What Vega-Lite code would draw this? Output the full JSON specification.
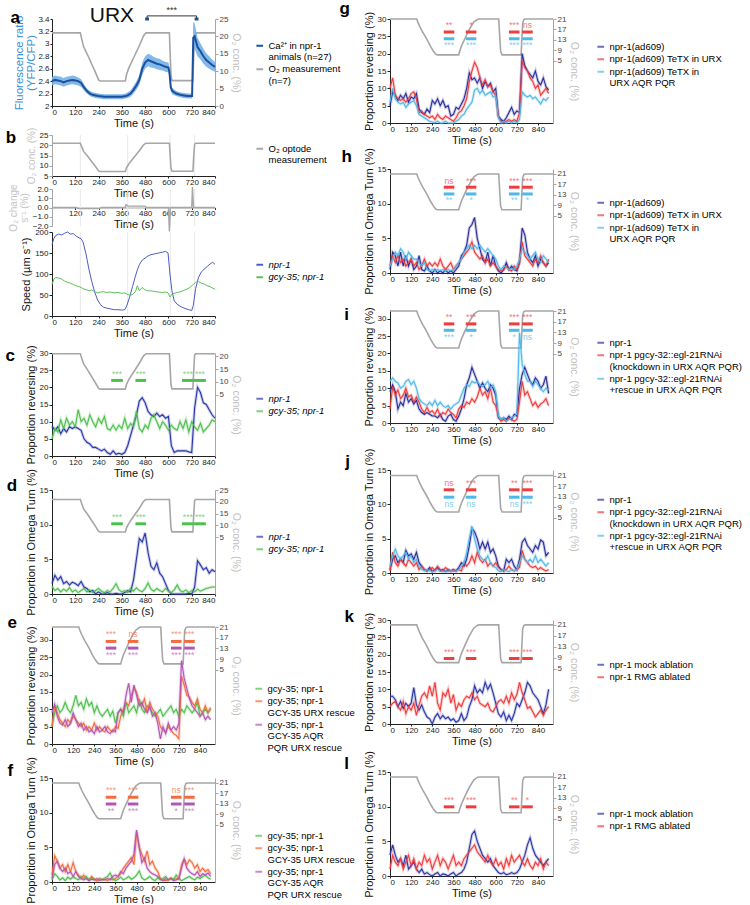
{
"$schema":"https://vega.github.io/schema/vega-lite/v6.json",
"padding":{"left":5,"top":0,"right":0,"bottom":0},
"autosize":{"type":"pad"},
"config":{
 "font":"Liberation Sans",
 "view":{"stroke":null},
 "axis":{"labelFontSize":8,"titleFontSize":11,"titleFontWeight":"normal","grid":false,"tickSize":3,"labelPadding":1,"titlePadding":3,"domainColor":"#222","tickColor":"#222","labelColor":"#222","titleColor":"#111"},
 "axisX":{"tickSize":2,"labelPadding":0,"titlePadding":1},
 "axisRight":{"titleFontSize":10.5},
 "legend":{"orient":"none","labelFontSize":9.5,"symbolType":"stroke","symbolStrokeWidth":2,"symbolSize":45,"rowPadding":1.5,"padding":0,"labelOffset":4,"labelLimit":300}
},
"datasets":{
"o2a":[{"t":0,"o2":21},{"t":146,"o2":21},{"t":152,"o2":19.5},{"t":163,"o2":17},{"t":185,"o2":14.5},{"t":205,"o2":12},{"t":225,"o2":9.5},{"t":240,"o2":7.5},{"t":248,"o2":7.2},{"t":378,"o2":7.2},{"t":384,"o2":9},{"t":395,"o2":10.8},{"t":420,"o2":13.8},{"t":450,"o2":17.3},{"t":472,"o2":20.2},{"t":484,"o2":21},{"t":605,"o2":21},{"t":609,"o2":15},{"t":613,"o2":9},{"t":618,"o2":7.3},{"t":726,"o2":7.3},{"t":730,"o2":14},{"t":735,"o2":20.5},{"t":740,"o2":21},{"t":840,"o2":21}],
"o2e":[{"t":0,"o2":21},{"t":152,"o2":21},{"t":158,"o2":19.8},{"t":170,"o2":18},{"t":185,"o2":16},{"t":200,"o2":14.3},{"t":215,"o2":12.5},{"t":230,"o2":10.5},{"t":245,"o2":8.8},{"t":258,"o2":7.6},{"t":268,"o2":7.2},{"t":390,"o2":7.2},{"t":395,"o2":8.5},{"t":405,"o2":10.5},{"t":425,"o2":13.5},{"t":450,"o2":17},{"t":475,"o2":19.8},{"t":495,"o2":20.8},{"t":505,"o2":21},{"t":617,"o2":21},{"t":622,"o2":15},{"t":628,"o2":8.5},{"t":636,"o2":7.2},{"t":744,"o2":7.2},{"t":748,"o2":13},{"t":753,"o2":19.5},{"t":760,"o2":20.8},{"t":770,"o2":21},{"t":925,"o2":21}],
"vt":[{"t":146},{"t":390},{"t":609},{"t":735}],
"a":[{"t":0,"v":2.40,"lo":2.33,"hi":2.47},{"t":15,"v":2.42,"lo":2.35,"hi":2.49},{"t":30,"v":2.41,"lo":2.34,"hi":2.48},{"t":45,"v":2.40,"lo":2.33,"hi":2.47},{"t":60,"v":2.38,"lo":2.31,"hi":2.45},{"t":75,"v":2.40,"lo":2.33,"hi":2.47},{"t":90,"v":2.41,"lo":2.34,"hi":2.48},{"t":105,"v":2.42,"lo":2.35,"hi":2.49},{"t":120,"v":2.41,"lo":2.34,"hi":2.48},{"t":135,"v":2.40,"lo":2.33,"hi":2.46},{"t":150,"v":2.37,"lo":2.31,"hi":2.43},{"t":165,"v":2.30,"lo":2.25,"hi":2.35},{"t":180,"v":2.24,"lo":2.20,"hi":2.28},{"t":195,"v":2.20,"lo":2.16,"hi":2.24},{"t":210,"v":2.18,"lo":2.14,"hi":2.22},{"t":225,"v":2.17,"lo":2.13,"hi":2.21},{"t":240,"v":2.16,"lo":2.12,"hi":2.20},{"t":270,"v":2.15,"lo":2.11,"hi":2.19},{"t":300,"v":2.15,"lo":2.11,"hi":2.19},{"t":330,"v":2.15,"lo":2.11,"hi":2.19},{"t":360,"v":2.15,"lo":2.11,"hi":2.19},{"t":380,"v":2.16,"lo":2.12,"hi":2.20},{"t":390,"v":2.17,"lo":2.13,"hi":2.22},{"t":405,"v":2.20,"lo":2.15,"hi":2.25},{"t":420,"v":2.26,"lo":2.20,"hi":2.32},{"t":435,"v":2.33,"lo":2.26,"hi":2.40},{"t":450,"v":2.42,"lo":2.34,"hi":2.50},{"t":465,"v":2.60,"lo":2.50,"hi":2.70},{"t":480,"v":2.70,"lo":2.60,"hi":2.80},{"t":495,"v":2.74,"lo":2.64,"hi":2.84},{"t":510,"v":2.72,"lo":2.62,"hi":2.82},{"t":525,"v":2.70,"lo":2.61,"hi":2.79},{"t":540,"v":2.68,"lo":2.59,"hi":2.77},{"t":555,"v":2.67,"lo":2.58,"hi":2.76},{"t":570,"v":2.65,"lo":2.57,"hi":2.73},{"t":585,"v":2.63,"lo":2.55,"hi":2.71},{"t":600,"v":2.62,"lo":2.54,"hi":2.70},{"t":605,"v":2.55,"lo":2.47,"hi":2.63},{"t":612,"v":2.30,"lo":2.24,"hi":2.36},{"t":620,"v":2.24,"lo":2.19,"hi":2.29},{"t":640,"v":2.20,"lo":2.16,"hi":2.24},{"t":660,"v":2.18,"lo":2.14,"hi":2.22},{"t":680,"v":2.17,"lo":2.13,"hi":2.21},{"t":700,"v":2.16,"lo":2.12,"hi":2.20},{"t":722,"v":2.16,"lo":2.12,"hi":2.20},{"t":728,"v":3.10,"lo":2.90,"hi":3.35},{"t":735,"v":3.12,"lo":2.92,"hi":3.33},{"t":750,"v":2.95,"lo":2.80,"hi":3.10},{"t":765,"v":2.88,"lo":2.75,"hi":3.01},{"t":780,"v":2.80,"lo":2.68,"hi":2.92},{"t":795,"v":2.74,"lo":2.63,"hi":2.85},{"t":810,"v":2.70,"lo":2.60,"hi":2.80},{"t":825,"v":2.66,"lo":2.57,"hi":2.75},{"t":840,"v":2.63,"lo":2.55,"hi":2.71}],
"abr":[{"t0":490,"t1":745,"y0":3.45,"y1":3.45},{"t0":490,"t1":490,"y0":3.4,"y1":3.45},{"t0":745,"t1":745,"y0":3.4,"y1":3.45}],
"acap":[{"t0":480,"t1":500,"y":3.4},{"t0":735,"t1":755,"y":3.4}],
"aast":[{"t":617,"y":3.54,"lab":"***"}],
"aurx":[{"t":309,"y":3.45,"lab":"URX"}],
"b2":[{"t":0,"d":0},{"t":125,"d":0},{"t":135,"d":-0.12},{"t":245,"d":-0.12},{"t":255,"d":0},{"t":376,"d":0},{"t":382,"d":0.3},{"t":390,"d":0.15},{"t":480,"d":0.15},{"t":486,"d":0},{"t":600,"d":0},{"t":605,"d":-2.6},{"t":610,"d":0},{"t":720,"d":0},{"t":724,"d":2.2},{"t":729,"d":0},{"t":840,"d":0}],
"b3":[{"t":0,"A":170,"B":75},{"t":10,"A":185,"B":88},{"t":20,"A":192,"B":92},{"t":35,"A":195,"B":90},{"t":50,"A":193,"B":88},{"t":65,"A":197,"B":83},{"t":80,"A":200,"B":80},{"t":95,"A":195,"B":78},{"t":110,"A":196,"B":75},{"t":125,"A":190,"B":72},{"t":140,"A":186,"B":70},{"t":150,"A":184,"B":68},{"t":160,"A":176,"B":65},{"t":175,"A":148,"B":63},{"t":190,"A":112,"B":60},{"t":205,"A":82,"B":62},{"t":220,"A":57,"B":58},{"t":235,"A":38,"B":55},{"t":250,"A":27,"B":57},{"t":265,"A":21,"B":58},{"t":280,"A":19,"B":56},{"t":300,"A":17,"B":57},{"t":320,"A":15,"B":55},{"t":340,"A":15,"B":56},{"t":360,"A":14,"B":54},{"t":375,"A":15,"B":55},{"t":385,"A":24,"B":52},{"t":400,"A":45,"B":50},{"t":415,"A":70,"B":51},{"t":430,"A":95,"B":58},{"t":440,"A":110,"B":72},{"t":450,"A":122,"B":60},{"t":465,"A":133,"B":68},{"t":480,"A":138,"B":62},{"t":495,"A":143,"B":60},{"t":510,"A":146,"B":60},{"t":530,"A":148,"B":58},{"t":550,"A":150,"B":57},{"t":570,"A":152,"B":56},{"t":585,"A":154,"B":57},{"t":598,"A":150,"B":55},{"t":608,"A":100,"B":45},{"t":618,"A":60,"B":52},{"t":630,"A":36,"B":54},{"t":645,"A":28,"B":56},{"t":665,"A":22,"B":58},{"t":685,"A":18,"B":62},{"t":705,"A":15,"B":66},{"t":720,"A":13,"B":72},{"t":728,"A":25,"B":75},{"t":740,"A":65,"B":80},{"t":755,"A":92,"B":82},{"t":770,"A":105,"B":78},{"t":785,"A":112,"B":76},{"t":800,"A":118,"B":72},{"t":815,"A":124,"B":70},{"t":828,"A":128,"B":66},{"t":840,"A":123,"B":64}],
"c":[{"t":0,"A":8.7,"B":5},{"t":15,"A":7.5,"B":8},{"t":30,"A":8.5,"B":7},{"t":45,"A":6.5,"B":10.5},{"t":60,"A":8,"B":8},{"t":75,"A":7,"B":11},{"t":90,"A":8.5,"B":9},{"t":105,"A":8,"B":10},{"t":120,"A":8.5,"B":8.5},{"t":135,"A":8,"B":13.5},{"t":150,"A":7.5,"B":10},{"t":165,"A":5,"B":11},{"t":180,"A":4,"B":9},{"t":195,"A":3.5,"B":12},{"t":210,"A":2.5,"B":10},{"t":225,"A":2.5,"B":8.5},{"t":240,"A":2,"B":11},{"t":255,"A":1.5,"B":9.5},{"t":270,"A":2,"B":11.5},{"t":285,"A":1,"B":8},{"t":300,"A":0.5,"B":7.5},{"t":315,"A":1.5,"B":9},{"t":330,"A":0.5,"B":7.5},{"t":345,"A":0.8,"B":9},{"t":360,"A":0.5,"B":8},{"t":375,"A":1,"B":11},{"t":390,"A":3,"B":8},{"t":405,"A":6,"B":9.5},{"t":420,"A":9,"B":8.5},{"t":435,"A":12,"B":13},{"t":450,"A":16,"B":8},{"t":465,"A":17,"B":7},{"t":480,"A":15.5,"B":9},{"t":495,"A":13,"B":8},{"t":510,"A":12,"B":11},{"t":525,"A":11.5,"B":12},{"t":540,"A":12.5,"B":10},{"t":555,"A":11.5,"B":8},{"t":570,"A":12,"B":10},{"t":585,"A":11,"B":9},{"t":600,"A":11.5,"B":7.5},{"t":615,"A":3,"B":9},{"t":630,"A":1,"B":8},{"t":645,"A":1.5,"B":7.5},{"t":660,"A":1.5,"B":10},{"t":675,"A":1.5,"B":8},{"t":690,"A":1.5,"B":10.5},{"t":705,"A":1.2,"B":7},{"t":720,"A":1,"B":10},{"t":735,"A":14,"B":8.5},{"t":750,"A":20,"B":7.5},{"t":765,"A":18.5,"B":9.5},{"t":780,"A":15.5,"B":7},{"t":795,"A":15,"B":8},{"t":810,"A":13.5,"B":9},{"t":825,"A":12,"B":10.5},{"t":840,"A":11,"B":10}],
"d":[{"t":0,"A":1.5,"B":1.1},{"t":15,"A":2.7,"B":0.5},{"t":30,"A":2,"B":0.8},{"t":45,"A":2.5,"B":0.3},{"t":60,"A":1.5,"B":0.7},{"t":75,"A":1.8,"B":0.4},{"t":90,"A":1.3,"B":0.9},{"t":105,"A":1.7,"B":0.3},{"t":120,"A":1.5,"B":0.6},{"t":135,"A":1.2,"B":0.2},{"t":150,"A":1.8,"B":0.5},{"t":165,"A":1,"B":0.8},{"t":180,"A":0.8,"B":0.3},{"t":195,"A":0.3,"B":0.6},{"t":210,"A":0.5,"B":0.2},{"t":225,"A":0,"B":0.5},{"t":240,"A":0.3,"B":0.8},{"t":255,"A":0,"B":0.4},{"t":270,"A":0,"B":0.2},{"t":285,"A":0.2,"B":0.5},{"t":300,"A":0,"B":0.3},{"t":315,"A":0,"B":0.8},{"t":330,"A":0.1,"B":1.5},{"t":345,"A":0,"B":0.6},{"t":360,"A":0,"B":0.3},{"t":375,"A":0.2,"B":0.5},{"t":390,"A":0.5,"B":0.2},{"t":405,"A":0.3,"B":0.8},{"t":420,"A":2,"B":0.4},{"t":435,"A":5,"B":0.9},{"t":450,"A":8,"B":0.5},{"t":465,"A":7.5,"B":0.3},{"t":480,"A":8.8,"B":0.8},{"t":495,"A":6,"B":1.6},{"t":510,"A":4,"B":0.7},{"t":525,"A":3.5,"B":0.4},{"t":540,"A":4.5,"B":0.8},{"t":555,"A":3,"B":0.5},{"t":570,"A":2.5,"B":0.3},{"t":585,"A":1.5,"B":0.8},{"t":600,"A":0.5,"B":0.4},{"t":615,"A":0,"B":0.2},{"t":630,"A":0,"B":0.6},{"t":645,"A":0,"B":1.3},{"t":660,"A":0,"B":0.5},{"t":675,"A":0,"B":0.3},{"t":690,"A":0,"B":0.6},{"t":705,"A":0.1,"B":0.2},{"t":720,"A":0,"B":0.5},{"t":735,"A":1,"B":0.3},{"t":750,"A":4.8,"B":0.7},{"t":765,"A":4.2,"B":0.4},{"t":780,"A":3.5,"B":0.6},{"t":795,"A":3.8,"B":0.8},{"t":810,"A":3,"B":0.9},{"t":825,"A":3.5,"B":1},{"t":840,"A":3.2,"B":1}],
"e":[{"t":0,"A":5,"B":5,"C":9},{"t":15,"A":9,"B":11,"C":11.5},{"t":30,"A":11,"B":9,"C":8},{"t":45,"A":9,"B":7,"C":6},{"t":60,"A":10,"B":6,"C":5.5},{"t":75,"A":12,"B":5,"C":7},{"t":90,"A":10,"B":7,"C":5},{"t":105,"A":9,"B":6,"C":6},{"t":120,"A":11,"B":8,"C":9},{"t":135,"A":14,"B":7,"C":7},{"t":150,"A":11,"B":6,"C":5},{"t":165,"A":12,"B":5,"C":6},{"t":180,"A":10,"B":6,"C":4},{"t":195,"A":13,"B":4,"C":5},{"t":210,"A":11,"B":5,"C":3.5},{"t":225,"A":12,"B":4,"C":4},{"t":240,"A":9,"B":6,"C":3},{"t":255,"A":11,"B":4,"C":5},{"t":270,"A":9,"B":5,"C":3.5},{"t":285,"A":8,"B":4,"C":4},{"t":300,"A":9,"B":3.5,"C":5},{"t":315,"A":10,"B":5,"C":3.5},{"t":330,"A":8,"B":4,"C":3},{"t":345,"A":9.5,"B":3.5,"C":4},{"t":360,"A":6,"B":5,"C":3.5},{"t":375,"A":9,"B":4.5,"C":9},{"t":390,"A":10,"B":8,"C":10},{"t":405,"A":8,"B":10,"C":9},{"t":420,"A":12,"B":12,"C":14},{"t":435,"A":9,"B":11,"C":17.5},{"t":450,"A":10,"B":14,"C":12},{"t":465,"A":11,"B":16,"C":17},{"t":480,"A":9,"B":15,"C":14},{"t":495,"A":13,"B":12,"C":11},{"t":510,"A":10,"B":11,"C":12},{"t":525,"A":9,"B":13,"C":10},{"t":540,"A":11,"B":9,"C":9},{"t":555,"A":10,"B":12,"C":11},{"t":570,"A":9,"B":10,"C":8},{"t":585,"A":8,"B":9,"C":9},{"t":600,"A":9,"B":8,"C":6},{"t":615,"A":10,"B":5,"C":1.5},{"t":630,"A":8,"B":4,"C":5},{"t":645,"A":9,"B":3.5,"C":3},{"t":660,"A":10,"B":5,"C":6},{"t":675,"A":11,"B":4,"C":4},{"t":690,"A":9,"B":3,"C":5},{"t":705,"A":10,"B":2.5,"C":4},{"t":720,"A":8,"B":1.5,"C":6},{"t":735,"A":10,"B":19.5,"C":24},{"t":750,"A":9,"B":17,"C":19},{"t":765,"A":11,"B":14,"C":16},{"t":780,"A":10,"B":13.5,"C":13},{"t":795,"A":9,"B":12,"C":11},{"t":810,"A":10,"B":11,"C":10},{"t":825,"A":12,"B":13,"C":9},{"t":840,"A":8,"B":10,"C":8},{"t":855,"A":9,"B":9,"C":9},{"t":870,"A":10,"B":11,"C":7},{"t":885,"A":9,"B":9,"C":8},{"t":900,"A":10,"B":10.5,"C":7}],
"f":[{"t":0,"A":0.3,"B":1,"C":0.5},{"t":15,"A":1.2,"B":3.8,"C":2.5},{"t":30,"A":0.8,"B":3,"C":3},{"t":45,"A":0.3,"B":2,"C":2},{"t":60,"A":0.6,"B":2.5,"C":1.5},{"t":75,"A":0.2,"B":1.5,"C":2},{"t":90,"A":0.7,"B":2.5,"C":1.2},{"t":105,"A":0.4,"B":1.5,"C":1.5},{"t":120,"A":0.8,"B":2.8,"C":0.8},{"t":135,"A":0.5,"B":1.5,"C":1.5},{"t":150,"A":0.3,"B":1,"C":0.8},{"t":165,"A":0.8,"B":0.5,"C":0.5},{"t":180,"A":0.5,"B":1,"C":0.3},{"t":195,"A":0.8,"B":0.5,"C":0.5},{"t":210,"A":0.3,"B":0.3,"C":0.2},{"t":225,"A":0.6,"B":0.8,"C":0.4},{"t":240,"A":0.4,"B":0.4,"C":0.3},{"t":255,"A":0.2,"B":0.2,"C":0.5},{"t":270,"A":0.5,"B":0.5,"C":0.2},{"t":285,"A":0.3,"B":0.3,"C":0.4},{"t":300,"A":0.6,"B":0.4,"C":0.3},{"t":315,"A":0.8,"B":0.2,"C":0.5},{"t":330,"A":1.3,"B":0.5,"C":0.3},{"t":345,"A":0.5,"B":0.3,"C":0.8},{"t":360,"A":0.2,"B":0.5,"C":1},{"t":375,"A":0.4,"B":0.8,"C":0.8},{"t":390,"A":0.7,"B":1.2,"C":1.5},{"t":405,"A":0.3,"B":2,"C":1.2},{"t":420,"A":0.5,"B":2.5,"C":2},{"t":435,"A":0.8,"B":3,"C":2.5},{"t":450,"A":0.4,"B":3.5,"C":3},{"t":465,"A":0.6,"B":2.5,"C":4},{"t":480,"A":1,"B":7.2,"C":7.5},{"t":495,"A":1.6,"B":5,"C":5},{"t":510,"A":0.6,"B":4,"C":2.8},{"t":525,"A":0.3,"B":3,"C":3.5},{"t":540,"A":0.5,"B":4.5,"C":2},{"t":555,"A":0.8,"B":2.5,"C":1.5},{"t":570,"A":0.4,"B":3,"C":1.2},{"t":585,"A":0.2,"B":2,"C":1},{"t":600,"A":0.6,"B":1.5,"C":0.8},{"t":615,"A":0.3,"B":0.5,"C":0.4},{"t":630,"A":0.5,"B":0.3,"C":0.2},{"t":645,"A":0.8,"B":0.2,"C":0.5},{"t":660,"A":0.3,"B":0.3,"C":0.3},{"t":675,"A":0.6,"B":0.5,"C":0.5},{"t":690,"A":0.4,"B":0.3,"C":0.2},{"t":705,"A":1,"B":0.5,"C":0.3},{"t":720,"A":0.5,"B":0.4,"C":0.5},{"t":735,"A":0.2,"B":2.5,"C":2},{"t":750,"A":0.4,"B":3.3,"C":3.3},{"t":765,"A":0.6,"B":2.5,"C":2},{"t":780,"A":0.8,"B":3.2,"C":1.5},{"t":795,"A":0.5,"B":2.8,"C":1.2},{"t":810,"A":0.3,"B":2,"C":1},{"t":825,"A":0.7,"B":2.5,"C":1.5},{"t":840,"A":0.5,"B":1.5,"C":0.8},{"t":855,"A":0.8,"B":2,"C":1.2},{"t":870,"A":1,"B":1.5,"C":1},{"t":885,"A":0.6,"B":1.8,"C":1.3},{"t":900,"A":0.4,"B":1.2,"C":0.8}],
"g":[{"t":0,"A":5,"B":10,"C":6},{"t":15,"A":9,"B":13,"C":10},{"t":30,"A":8,"B":8,"C":7},{"t":45,"A":6.5,"B":7,"C":6},{"t":60,"A":8,"B":6.5,"C":5.5},{"t":75,"A":7,"B":7,"C":6},{"t":90,"A":8.5,"B":6,"C":4.5},{"t":105,"A":6,"B":7,"C":5.5},{"t":120,"A":7.5,"B":8.5,"C":6},{"t":135,"A":7,"B":9,"C":6.5},{"t":150,"A":8.5,"B":7,"C":5},{"t":165,"A":4,"B":3,"C":2.5},{"t":180,"A":3,"B":3.5,"C":2},{"t":195,"A":2.5,"B":2.5,"C":1.5},{"t":210,"A":4,"B":2,"C":1},{"t":225,"A":3,"B":1.5,"C":0.5},{"t":240,"A":6.5,"B":2,"C":0.3},{"t":255,"A":5.5,"B":1,"C":0},{"t":270,"A":7,"B":2.5,"C":0.5},{"t":285,"A":5,"B":1.5,"C":0},{"t":300,"A":6.5,"B":1,"C":0},{"t":315,"A":4.5,"B":2,"C":0.5},{"t":330,"A":5,"B":1.5,"C":0},{"t":345,"A":2,"B":1,"C":0},{"t":360,"A":2.5,"B":0.5,"C":0},{"t":375,"A":4.5,"B":1.5,"C":0.5},{"t":390,"A":4,"B":3,"C":1},{"t":405,"A":5.5,"B":3.5,"C":2},{"t":420,"A":7,"B":5,"C":2.5},{"t":435,"A":10,"B":7,"C":4},{"t":450,"A":14.5,"B":12,"C":5},{"t":465,"A":12.5,"B":15,"C":6},{"t":480,"A":13,"B":17.5,"C":9.5},{"t":495,"A":11.5,"B":16,"C":10},{"t":510,"A":13,"B":13,"C":8.5},{"t":525,"A":10,"B":11,"C":9.5},{"t":540,"A":12,"B":12.5,"C":8},{"t":555,"A":10.5,"B":10.5,"C":8.5},{"t":570,"A":11.5,"B":11,"C":9},{"t":585,"A":9,"B":9,"C":7.5},{"t":600,"A":10,"B":8,"C":8},{"t":615,"A":2,"B":2,"C":1.5},{"t":630,"A":1,"B":0.5,"C":0},{"t":645,"A":0.5,"B":0,"C":0.5},{"t":660,"A":1.5,"B":0.5,"C":0},{"t":675,"A":3,"B":1,"C":0.5},{"t":690,"A":4.5,"B":0.5,"C":0},{"t":705,"A":2.5,"B":1,"C":0.5},{"t":720,"A":3.5,"B":0.5,"C":0},{"t":735,"A":3,"B":3,"C":1},{"t":750,"A":20,"B":18,"C":9},{"t":765,"A":16.5,"B":16,"C":8},{"t":780,"A":15,"B":15,"C":7.5},{"t":795,"A":14,"B":13,"C":8},{"t":810,"A":13,"B":12,"C":7},{"t":825,"A":15,"B":10,"C":7.5},{"t":840,"A":12,"B":11,"C":6.5},{"t":855,"A":11,"B":8,"C":5.5},{"t":870,"A":13,"B":9,"C":7},{"t":885,"A":10.5,"B":10,"C":6.5},{"t":900,"A":9.5,"B":8.5,"C":7.5}],
"h":[{"t":0,"A":0.5,"B":1,"C":1},{"t":15,"A":3,"B":2.5,"C":2},{"t":30,"A":2.5,"B":1.5,"C":3},{"t":45,"A":1,"B":2.5,"C":2.5},{"t":60,"A":3,"B":1.5,"C":3.5},{"t":75,"A":1,"B":2,"C":3},{"t":90,"A":2.5,"B":1,"C":2},{"t":105,"A":1,"B":1.5,"C":3},{"t":120,"A":2,"B":2,"C":2.5},{"t":135,"A":0.5,"B":1,"C":2},{"t":150,"A":1,"B":1.5,"C":2},{"t":165,"A":2.5,"B":0.5,"C":1.5},{"t":180,"A":0.5,"B":1,"C":1},{"t":195,"A":0.3,"B":2,"C":1.5},{"t":210,"A":1,"B":1,"C":0.5},{"t":225,"A":0.3,"B":1.5,"C":0.3},{"t":240,"A":0,"B":1,"C":0.5},{"t":255,"A":0.5,"B":1.5,"C":0.3},{"t":270,"A":0,"B":1,"C":0.5},{"t":285,"A":0.3,"B":2,"C":0.3},{"t":300,"A":0,"B":1,"C":0.5},{"t":315,"A":0.5,"B":0.5,"C":0.3},{"t":330,"A":0,"B":1,"C":0.5},{"t":345,"A":0.3,"B":1.5,"C":0.3},{"t":360,"A":0,"B":0.5,"C":0.5},{"t":375,"A":0.5,"B":1,"C":1},{"t":390,"A":1,"B":1.5,"C":1.5},{"t":405,"A":2.5,"B":2,"C":2},{"t":420,"A":3,"B":2.5,"C":3},{"t":435,"A":4,"B":3,"C":3.5},{"t":450,"A":6.5,"B":3.5,"C":4},{"t":465,"A":7,"B":4.5,"C":3.5},{"t":480,"A":8,"B":3,"C":4},{"t":495,"A":5,"B":2.5,"C":3.5},{"t":510,"A":3.5,"B":2,"C":4},{"t":525,"A":2,"B":2.5,"C":3.5},{"t":540,"A":1.5,"B":1.5,"C":3},{"t":555,"A":3,"B":2,"C":3.5},{"t":570,"A":1,"B":1,"C":3},{"t":585,"A":2.5,"B":1.5,"C":2.5},{"t":600,"A":1,"B":1,"C":2},{"t":615,"A":0.3,"B":0.5,"C":1},{"t":630,"A":0,"B":0.3,"C":0.5},{"t":645,"A":0.5,"B":0.5,"C":1},{"t":660,"A":1.5,"B":1,"C":0.8},{"t":675,"A":0.5,"B":0.5,"C":0.5},{"t":690,"A":1,"B":0.3,"C":0.7},{"t":705,"A":0.5,"B":1,"C":0.5},{"t":720,"A":0.3,"B":0.5,"C":1},{"t":735,"A":1.5,"B":1.5,"C":2},{"t":750,"A":6.5,"B":4.5,"C":3.5},{"t":765,"A":5.5,"B":2.5,"C":3},{"t":780,"A":3,"B":2,"C":2.5},{"t":795,"A":2,"B":1.5,"C":2},{"t":810,"A":1.5,"B":1,"C":2.5},{"t":825,"A":2.5,"B":2,"C":3},{"t":840,"A":1,"B":1.5,"C":2},{"t":855,"A":2,"B":2.5,"C":1.5},{"t":870,"A":1.5,"B":1.5,"C":2.5},{"t":885,"A":1,"B":1,"C":2},{"t":900,"A":1.5,"B":2,"C":1.5}],
"i":[{"t":0,"A":9,"B":4,"C":12},{"t":15,"A":11,"B":10.5,"C":13},{"t":30,"A":9,"B":8,"C":12},{"t":45,"A":4,"B":9.5,"C":11.5},{"t":60,"A":6,"B":7,"C":10},{"t":75,"A":5,"B":8,"C":10.5},{"t":90,"A":8.5,"B":10,"C":12},{"t":105,"A":6,"B":7.5,"C":12.5},{"t":120,"A":7,"B":8,"C":11},{"t":135,"A":5.5,"B":6,"C":12},{"t":150,"A":6.5,"B":7.5,"C":10},{"t":165,"A":4,"B":6,"C":7},{"t":180,"A":3,"B":4,"C":6},{"t":195,"A":2.5,"B":3,"C":5.5},{"t":210,"A":3,"B":4.5,"C":5},{"t":225,"A":2.5,"B":3,"C":6},{"t":240,"A":2,"B":3.5,"C":5},{"t":255,"A":2,"B":2.5,"C":6.5},{"t":270,"A":1.5,"B":4,"C":5},{"t":285,"A":2.5,"B":2,"C":6},{"t":300,"A":1,"B":3,"C":5},{"t":315,"A":0.5,"B":2.5,"C":4.5},{"t":330,"A":2,"B":4,"C":5},{"t":345,"A":2.5,"B":3,"C":4},{"t":360,"A":1,"B":2.5,"C":5},{"t":375,"A":0.5,"B":1.5,"C":5.5},{"t":390,"A":2,"B":4,"C":6},{"t":405,"A":4,"B":5,"C":8},{"t":420,"A":7,"B":4.5,"C":10},{"t":435,"A":11,"B":6,"C":11},{"t":450,"A":13,"B":5.5,"C":10.5},{"t":465,"A":16,"B":7,"C":12},{"t":480,"A":14,"B":6,"C":11.5},{"t":495,"A":12,"B":7.5,"C":12},{"t":510,"A":10,"B":10,"C":11},{"t":525,"A":11.5,"B":8,"C":10.5},{"t":540,"A":10,"B":9,"C":11},{"t":555,"A":9,"B":7,"C":12},{"t":570,"A":11,"B":10,"C":10},{"t":585,"A":10,"B":6,"C":11},{"t":600,"A":8,"B":5,"C":9},{"t":615,"A":1.5,"B":2,"C":2},{"t":630,"A":1,"B":0.5,"C":1},{"t":645,"A":1.5,"B":1,"C":1.5},{"t":660,"A":1,"B":0.5,"C":0.5},{"t":675,"A":2,"B":1.5,"C":1},{"t":690,"A":1,"B":1,"C":1.5},{"t":705,"A":2.5,"B":0.5,"C":2},{"t":720,"A":2,"B":1,"C":2.5},{"t":735,"A":10,"B":6,"C":26},{"t":750,"A":14,"B":12,"C":17},{"t":765,"A":16,"B":8,"C":14},{"t":780,"A":14,"B":9,"C":12},{"t":795,"A":12,"B":7,"C":12},{"t":810,"A":11,"B":5,"C":10.5},{"t":825,"A":13,"B":6,"C":12},{"t":840,"A":12,"B":4.5,"C":11},{"t":855,"A":10,"B":5.5,"C":10},{"t":870,"A":11,"B":6,"C":9},{"t":885,"A":13.5,"B":7,"C":10},{"t":900,"A":8.5,"B":5,"C":9.5}],
"j":[{"t":0,"A":0.5,"B":0.3,"C":1},{"t":15,"A":2,"B":3,"C":2.5},{"t":30,"A":2.5,"B":1.5,"C":3.5},{"t":45,"A":1.5,"B":1,"C":2.5},{"t":60,"A":2,"B":2,"C":2},{"t":75,"A":1.5,"B":1.5,"C":2.5},{"t":90,"A":3.3,"B":1,"C":3},{"t":105,"A":2.5,"B":2,"C":2},{"t":120,"A":2.8,"B":1.5,"C":2.5},{"t":135,"A":2,"B":1,"C":1.5},{"t":150,"A":3,"B":1.5,"C":2},{"t":165,"A":1.5,"B":0.5,"C":1},{"t":180,"A":1,"B":1,"C":0.5},{"t":195,"A":0.5,"B":0.5,"C":0.3},{"t":210,"A":0.3,"B":0.3,"C":0.5},{"t":225,"A":0.8,"B":0.5,"C":0.3},{"t":240,"A":0.2,"B":0.8,"C":0.2},{"t":255,"A":0.5,"B":0.3,"C":0.3},{"t":270,"A":0.8,"B":1,"C":0.5},{"t":285,"A":0.3,"B":0.5,"C":0.3},{"t":300,"A":0.5,"B":0.3,"C":0.2},{"t":315,"A":0.2,"B":0.8,"C":0.3},{"t":330,"A":0.5,"B":0.5,"C":0.2},{"t":345,"A":0.3,"B":0.3,"C":0.3},{"t":360,"A":0.5,"B":0.5,"C":0.2},{"t":375,"A":0.3,"B":0.3,"C":0.3},{"t":390,"A":0.8,"B":0.5,"C":0.5},{"t":405,"A":1.5,"B":0.3,"C":1},{"t":420,"A":1,"B":1.5,"C":1.5},{"t":435,"A":2,"B":1,"C":3},{"t":450,"A":4,"B":1.5,"C":5},{"t":465,"A":6.5,"B":2.5,"C":6.8},{"t":480,"A":6,"B":1.5,"C":5},{"t":495,"A":5,"B":3,"C":3.5},{"t":510,"A":3.5,"B":2,"C":2.5},{"t":525,"A":4.5,"B":1.5,"C":2},{"t":540,"A":3.5,"B":2,"C":1.8},{"t":555,"A":4.5,"B":1,"C":2.5},{"t":570,"A":3,"B":1.5,"C":1.5},{"t":585,"A":3.5,"B":1,"C":1},{"t":600,"A":2.5,"B":1.5,"C":0.8},{"t":615,"A":1,"B":0.8,"C":0.3},{"t":630,"A":0.5,"B":0.5,"C":0.2},{"t":645,"A":0.3,"B":0.3,"C":0.5},{"t":660,"A":2,"B":0.5,"C":0.3},{"t":675,"A":1.5,"B":1,"C":0.2},{"t":690,"A":2,"B":0.5,"C":0.5},{"t":705,"A":1,"B":0.3,"C":0.3},{"t":720,"A":0.5,"B":0.5,"C":0.5},{"t":735,"A":2,"B":0.8,"C":1.5},{"t":750,"A":4.5,"B":3.3,"C":2.5},{"t":765,"A":5,"B":2,"C":2},{"t":780,"A":4,"B":1.5,"C":1.5},{"t":795,"A":3.5,"B":1,"C":2},{"t":810,"A":3,"B":0.8,"C":1.5},{"t":825,"A":4,"B":1,"C":2.5},{"t":840,"A":3.5,"B":0.5,"C":1.5},{"t":855,"A":4.8,"B":0.8,"C":2},{"t":870,"A":4.5,"B":0.5,"C":1.5},{"t":885,"A":2.5,"B":0.3,"C":1},{"t":900,"A":3,"B":0.5,"C":1.5}],
"k":[{"t":0,"A":8,"B":5},{"t":15,"A":8,"B":6},{"t":30,"A":7,"B":6.5},{"t":45,"A":5,"B":5},{"t":60,"A":6.5,"B":4},{"t":75,"A":4.5,"B":6.5},{"t":90,"A":6,"B":3},{"t":105,"A":5,"B":5},{"t":120,"A":6,"B":4},{"t":135,"A":10.5,"B":6},{"t":150,"A":5.5,"B":2.5},{"t":165,"A":4,"B":5.5},{"t":180,"A":5.5,"B":8},{"t":195,"A":3.5,"B":9},{"t":210,"A":2,"B":7.5},{"t":225,"A":1.5,"B":11},{"t":240,"A":0,"B":8},{"t":255,"A":2,"B":12},{"t":270,"A":3,"B":6},{"t":285,"A":1.5,"B":4},{"t":300,"A":2.5,"B":9},{"t":315,"A":1.5,"B":8},{"t":330,"A":2,"B":10},{"t":345,"A":1,"B":6},{"t":360,"A":1.5,"B":8.5},{"t":375,"A":0.5,"B":4},{"t":390,"A":1,"B":6},{"t":405,"A":3,"B":5},{"t":420,"A":1,"B":7},{"t":435,"A":2,"B":8},{"t":450,"A":5,"B":7.5},{"t":465,"A":7,"B":9},{"t":480,"A":11,"B":7},{"t":495,"A":9,"B":8},{"t":510,"A":10,"B":6},{"t":525,"A":9,"B":5.5},{"t":540,"A":12,"B":5},{"t":555,"A":10,"B":6},{"t":570,"A":11.5,"B":4},{"t":585,"A":9,"B":3.5},{"t":600,"A":6,"B":5},{"t":615,"A":3,"B":6.5},{"t":630,"A":2,"B":7},{"t":645,"A":3.5,"B":6},{"t":660,"A":1,"B":8},{"t":675,"A":2.5,"B":6},{"t":690,"A":1,"B":9},{"t":705,"A":3,"B":7},{"t":720,"A":6,"B":8.5},{"t":735,"A":5,"B":12},{"t":750,"A":7,"B":9},{"t":765,"A":9,"B":7},{"t":780,"A":12,"B":4.5},{"t":795,"A":11,"B":5},{"t":810,"A":9,"B":3.5},{"t":825,"A":8,"B":2},{"t":840,"A":7,"B":3},{"t":855,"A":5,"B":4},{"t":870,"A":3,"B":2.5},{"t":885,"A":5.5,"B":4},{"t":900,"A":10,"B":5}],
"l":[{"t":0,"A":3,"B":1},{"t":15,"A":4.5,"B":3},{"t":30,"A":3,"B":2},{"t":45,"A":2,"B":1.5},{"t":60,"A":2.5,"B":2.5},{"t":75,"A":1.5,"B":1},{"t":90,"A":3,"B":2},{"t":105,"A":1,"B":3},{"t":120,"A":1.5,"B":1.5},{"t":135,"A":2,"B":2.5},{"t":150,"A":1,"B":1},{"t":165,"A":0.5,"B":2},{"t":180,"A":1,"B":1.5},{"t":195,"A":0.3,"B":3},{"t":210,"A":0.5,"B":2},{"t":225,"A":0.2,"B":2.5},{"t":240,"A":0,"B":1},{"t":255,"A":0.3,"B":2},{"t":270,"A":0.5,"B":3},{"t":285,"A":0,"B":1.5},{"t":300,"A":0.3,"B":2.5},{"t":315,"A":0.2,"B":2},{"t":330,"A":0,"B":1},{"t":345,"A":0.3,"B":2},{"t":360,"A":0.5,"B":3},{"t":375,"A":0,"B":1.5},{"t":390,"A":0.3,"B":2},{"t":405,"A":0.5,"B":1.5},{"t":420,"A":1,"B":2.5},{"t":435,"A":2,"B":3},{"t":450,"A":4,"B":3.5},{"t":465,"A":6,"B":4},{"t":480,"A":6.5,"B":4.5},{"t":495,"A":5,"B":3.5},{"t":510,"A":4,"B":3},{"t":525,"A":3,"B":2.5},{"t":540,"A":2.5,"B":2},{"t":555,"A":2,"B":3},{"t":570,"A":2.5,"B":2},{"t":585,"A":1.5,"B":1.5},{"t":600,"A":1,"B":2.5},{"t":615,"A":0.5,"B":1.5},{"t":630,"A":0.3,"B":2},{"t":645,"A":0.5,"B":1},{"t":660,"A":0.2,"B":2.5},{"t":675,"A":0.3,"B":1.5},{"t":690,"A":0.5,"B":3},{"t":705,"A":0.3,"B":2},{"t":720,"A":0.5,"B":2.5},{"t":735,"A":1,"B":3},{"t":750,"A":2,"B":2},{"t":765,"A":3,"B":1.5},{"t":780,"A":4.5,"B":2.5},{"t":795,"A":5.5,"B":1.5},{"t":810,"A":4,"B":1},{"t":825,"A":3,"B":2},{"t":840,"A":2.5,"B":1.5},{"t":855,"A":2,"B":2.5},{"t":870,"A":1.5,"B":1},{"t":885,"A":2,"B":2},{"t":900,"A":2.5,"B":1.5}],
"sc":[{"s":"B","t0":305,"t1":365,"tm":335,"y":10.6,"ly":13.2,"lab":"***"},{"s":"B","t0":430,"t1":485,"tm":457,"y":10.6,"ly":13.2,"lab":"***"},{"s":"B","t0":670,"t1":730,"tm":700,"y":10.6,"ly":13.2,"lab":"***"},{"s":"B","t0":732,"t1":793,"tm":762,"y":10.6,"ly":13.2,"lab":"***"}],
"sd":[{"s":"B","t0":305,"t1":365,"tm":335,"y":10.7,"ly":13.5,"lab":"***"},{"s":"B","t0":430,"t1":485,"tm":457,"y":10.7,"ly":13.5,"lab":"***"},{"s":"B","t0":670,"t1":730,"tm":700,"y":10.7,"ly":13.5,"lab":"***"},{"s":"B","t0":732,"t1":793,"tm":762,"y":10.7,"ly":13.5,"lab":"***"}],
"se":[{"s":"B","t0":305,"t1":365,"tm":335,"y":15.6,"ly":18.2,"lab":"***"},{"s":"B","t0":430,"t1":490,"tm":460,"y":15.6,"ly":18.2,"lab":"ns"},{"s":"B","t0":675,"t1":735,"tm":705,"y":15.6,"ly":18.2,"lab":"***"},{"s":"B","t0":750,"t1":810,"tm":780,"y":15.6,"ly":18.2,"lab":"***"},{"s":"C","t0":305,"t1":365,"tm":335,"y":13.1,"ly":10.6,"lab":"***"},{"s":"C","t0":430,"t1":490,"tm":460,"y":13.1,"ly":10.6,"lab":"***"},{"s":"C","t0":675,"t1":735,"tm":705,"y":13.1,"ly":10.6,"lab":"***"},{"s":"C","t0":750,"t1":810,"tm":780,"y":13.1,"ly":10.6,"lab":"***"}],
"sf":[{"s":"B","t0":305,"t1":365,"tm":335,"y":15.5,"ly":18.1,"lab":"***"},{"s":"B","t0":430,"t1":490,"tm":460,"y":15.5,"ly":18.1,"lab":"***"},{"s":"B","t0":675,"t1":735,"tm":705,"y":15.5,"ly":18.1,"lab":"ns"},{"s":"B","t0":750,"t1":810,"tm":780,"y":15.5,"ly":18.1,"lab":"***"},{"s":"C","t0":305,"t1":365,"tm":335,"y":12.9,"ly":10.4,"lab":"**"},{"s":"C","t0":430,"t1":490,"tm":460,"y":12.9,"ly":10.4,"lab":"***"},{"s":"C","t0":675,"t1":735,"tm":705,"y":12.9,"ly":10.4,"lab":"*"},{"s":"C","t0":750,"t1":810,"tm":780,"y":12.9,"ly":10.4,"lab":"***"}],
"sg":[{"s":"B","t0":305,"t1":365,"tm":335,"y":16,"ly":18.7,"lab":"**"},{"s":"B","t0":430,"t1":490,"tm":460,"y":16,"ly":18.7,"lab":"*"},{"s":"B","t0":675,"t1":735,"tm":705,"y":16,"ly":18.7,"lab":"***"},{"s":"B","t0":750,"t1":810,"tm":780,"y":16,"ly":18.7,"lab":"ns"},{"s":"C","t0":305,"t1":365,"tm":335,"y":13.4,"ly":10.9,"lab":"***"},{"s":"C","t0":430,"t1":490,"tm":460,"y":13.4,"ly":10.9,"lab":"***"},{"s":"C","t0":675,"t1":735,"tm":705,"y":13.4,"ly":10.9,"lab":"***"},{"s":"C","t0":750,"t1":810,"tm":780,"y":13.4,"ly":10.9,"lab":"***"}],
"sh":[{"s":"B","t0":305,"t1":365,"tm":335,"y":15.9,"ly":18.4,"lab":"ns"},{"s":"B","t0":430,"t1":490,"tm":460,"y":15.9,"ly":18.4,"lab":"***"},{"s":"B","t0":675,"t1":735,"tm":705,"y":15.9,"ly":18.4,"lab":"***"},{"s":"B","t0":750,"t1":810,"tm":780,"y":15.9,"ly":18.4,"lab":"***"},{"s":"C","t0":305,"t1":365,"tm":335,"y":13.3,"ly":10.9,"lab":"**"},{"s":"C","t0":430,"t1":490,"tm":460,"y":13.3,"ly":10.9,"lab":"*"},{"s":"C","t0":675,"t1":735,"tm":705,"y":13.3,"ly":10.9,"lab":"**"},{"s":"C","t0":750,"t1":810,"tm":780,"y":13.3,"ly":10.9,"lab":"*"}],
"si":[{"s":"B","t0":305,"t1":365,"tm":335,"y":16.2,"ly":18.9,"lab":"**"},{"s":"B","t0":430,"t1":490,"tm":460,"y":16.2,"ly":18.9,"lab":"***"},{"s":"B","t0":675,"t1":735,"tm":705,"y":16.2,"ly":18.9,"lab":"***"},{"s":"B","t0":750,"t1":810,"tm":780,"y":16.2,"ly":18.9,"lab":"***"},{"s":"C","t0":305,"t1":365,"tm":335,"y":13.8,"ly":11.2,"lab":"***"},{"s":"C","t0":430,"t1":490,"tm":460,"y":13.8,"ly":11.2,"lab":"*"},{"s":"C","t0":675,"t1":735,"tm":705,"y":13.8,"ly":11.2,"lab":"*"},{"s":"C","t0":750,"t1":810,"tm":780,"y":13.8,"ly":11.2,"lab":"ns"}],
"sj":[{"s":"B","t0":305,"t1":365,"tm":335,"y":15.6,"ly":18.2,"lab":"ns"},{"s":"B","t0":430,"t1":490,"tm":460,"y":15.6,"ly":18.2,"lab":"***"},{"s":"B","t0":675,"t1":735,"tm":705,"y":15.6,"ly":18.2,"lab":"**"},{"s":"B","t0":750,"t1":810,"tm":780,"y":15.6,"ly":18.2,"lab":"***"},{"s":"C","t0":305,"t1":365,"tm":335,"y":12.8,"ly":10.3,"lab":"ns"},{"s":"C","t0":430,"t1":490,"tm":460,"y":12.8,"ly":10.3,"lab":"ns"},{"s":"C","t0":675,"t1":735,"tm":705,"y":12.8,"ly":10.3,"lab":"ns"},{"s":"C","t0":750,"t1":810,"tm":780,"y":12.8,"ly":10.3,"lab":"***"}],
"sk":[{"s":"B","t0":305,"t1":365,"tm":335,"y":8.7,"ly":11.2,"lab":"***"},{"s":"B","t0":430,"t1":490,"tm":460,"y":8.7,"ly":11.2,"lab":"***"},{"s":"B","t0":675,"t1":735,"tm":705,"y":8.7,"ly":11.2,"lab":"***"},{"s":"B","t0":750,"t1":810,"tm":780,"y":8.7,"ly":11.2,"lab":"***"}],
"sl":[{"s":"B","t0":305,"t1":365,"tm":335,"y":9.5,"ly":12,"lab":"***"},{"s":"B","t0":430,"t1":490,"tm":460,"y":9.5,"ly":12,"lab":"***"},{"s":"B","t0":675,"t1":735,"tm":705,"y":9.5,"ly":12,"lab":"**"},{"s":"B","t0":750,"t1":810,"tm":780,"y":9.5,"ly":12,"lab":"*"}],
"sp":[{"k":0}]
},
"hconcat":[
{"vconcat":[
 {"width":163,"height":87,
  "resolve":{"scale":{"y":"independent"}},
  "layer":[
   {"data":{"name":"o2a"},"mark":{"type":"line","strokeWidth":1.6},
    "encoding":{"x":{"field":"t","type":"quantitative","scale":{"domain":[0,840],"nice":false,"zero":false},"axis":{"values":[0,120,240,360,480,600,720,840],"tickCount":20,"title":"Time (s)"}},
     "y":{"field":"o2","type":"quantitative","scale":{"domain":[0,25],"nice":false,"zero":false},"axis":{"orient":"right","values":[0,5,10,15,20,25],"tickCount":20,"title":"O₂ conc. (%)","titleColor":"#c0c0c0","domainColor":"#a6a6a6","tickColor":"#a6a6a6","labelColor":"#444"}},
     "color":{"datum":"O2","scale":{"domain":["Ca","O2"],"range":["#1c4f9c","#a6a6a6"]},"legend":{"title":null,"legendX":203,"legendY":22,"labelExpr":"datum.label=='Ca' ? ['Ca²⁺ in npr-1','animals (n=27)'] : ['O₂ measurement','(n=7)']"}}}},
   {"layer":[
    {"data":{"name":"a"},"mark":{"type":"area","color":"#74b0e8","opacity":0.9},
     "encoding":{"x":{"field":"t","type":"quantitative"},"y":{"field":"lo","type":"quantitative","scale":{"domain":[2,3.4],"nice":false,"zero":false},"axis":{"values":[2,2.2,2.4,2.6,2.8,3,3.2,3.4],"tickCount":20,"format":"~g","tickSize":2,"title":["Fluorescence ratio","(YFP/CFP)"],"titleColor":"#3a8fd8","titleFontSize":11.5,"titleLineHeight":12,"titlePadding":1}},"y2":{"field":"hi"}}},
    {"data":{"name":"a"},"mark":{"type":"line","strokeWidth":2},
     "encoding":{"x":{"field":"t","type":"quantitative"},"y":{"field":"v","type":"quantitative"},"color":{"datum":"Ca"}}},
    {"data":{"name":"abr"},"mark":{"type":"rule","color":"#333","strokeWidth":1},
     "encoding":{"x":{"field":"t0","type":"quantitative"},"x2":{"field":"t1"},"y":{"field":"y0","type":"quantitative"},"y2":{"field":"y1"}}},
    {"data":{"name":"acap"},"mark":{"type":"rule","color":"#1c4f9c","strokeWidth":3},
     "encoding":{"x":{"field":"t0","type":"quantitative"},"x2":{"field":"t1"},"y":{"field":"y","type":"quantitative"}}},
    {"data":{"name":"aast"},"mark":{"type":"text","fontSize":9,"baseline":"middle","color":"#333"},
     "encoding":{"x":{"field":"t","type":"quantitative"},"y":{"field":"y","type":"quantitative"},"text":{"field":"lab"}}},
    {"data":{"name":"aurx"},"mark":{"type":"text","fontSize":21,"baseline":"middle","color":"#111"},
     "encoding":{"x":{"field":"t","type":"quantitative"},"y":{"field":"y","type":"quantitative"},"text":{"field":"lab"}}},
    {"data":{"name":"sp"},"mark":{"type":"text","fontSize":17,"fontWeight":"bold","align":"right","baseline":"alphabetic","color":"#000"},
     "encoding":{"x":{"datum":-165},"y":{"datum":3.336},"text":{"value":"a"}}}
   ]}
  ]},
 {"width":163,"height":17,"data":{"name":"sp"},"mark":{"type":"point","opacity":0}},
 {"width":163,"height":41,
  "layer":[
   {"data":{"name":"vt"},"mark":{"type":"rule","color":"#e8e8e8","strokeWidth":1},"encoding":{"x":{"field":"t","type":"quantitative","scale":{"domain":[0,840],"nice":false,"zero":false},"axis":{"values":[0,120,240,360,480,600,720,840],"tickCount":20,"title":"Time (s)"}}}},
   {"data":{"name":"o2a"},"mark":{"type":"line","strokeWidth":1.6},
    "encoding":{"x":{"field":"t","type":"quantitative"},"y":{"field":"o2","type":"quantitative","scale":{"domain":[5,25],"nice":false,"zero":false},"axis":{"values":[5,10,15,20,25],"tickCount":20,"title":"O₂ conc. (%)","titleColor":"#c4c4c4","titleFontSize":10,"domainColor":"#a6a6a6","tickColor":"#a6a6a6"}},
     "color":{"datum":"O2","scale":{"domain":["O2"],"range":["#a6a6a6"]},"legend":{"title":null,"legendX":203,"legendY":9,"labelExpr":"['O₂ optode','measurement']"}}}},
   {"data":{"name":"sp"},"mark":{"type":"text","fontSize":17,"fontWeight":"bold","align":"right","baseline":"alphabetic","color":"#000"},
    "encoding":{"x":{"datum":-185},"y":{"datum":21.1},"text":{"value":"b"}}}
  ]},
 {"width":163,"height":1,"data":{"name":"sp"},"mark":{"type":"point","opacity":0}},
 {"width":163,"height":37,
  "layer":[
   {"data":{"name":"vt"},"mark":{"type":"rule","color":"#e8e8e8","strokeWidth":1},"encoding":{"x":{"field":"t","type":"quantitative","scale":{"domain":[0,840],"nice":false,"zero":false},"axis":{"values":[120,240,360,480,600,720,840],"tickCount":20,"title":"Time (s)","offset":-18.5,"domainColor":"#a6a6a6"}}}},
   {"data":{"name":"b2"},"mark":{"type":"line","color":"#a6a6a6","strokeWidth":1.4},
    "encoding":{"x":{"field":"t","type":"quantitative"},"y":{"field":"d","type":"quantitative","scale":{"domain":[-2,2],"nice":false,"zero":false},"axis":{"values":[-2,-1,0,1,2],"tickCount":20,"title":["O₂ change","s⁻¹ (%)"],"titleColor":"#c4c4c4","titleFontSize":10,"titleLineHeight":11,"domainColor":"#a6a6a6","tickColor":"#a6a6a6"}}}}
  ]},
 {"width":163,"height":84,
  "layer":[
   {"data":{"name":"vt"},"mark":{"type":"rule","color":"#e8e8e8","strokeWidth":1},"encoding":{"x":{"field":"t","type":"quantitative","scale":{"domain":[0,840],"nice":false,"zero":false},"axis":{"values":[0,120,240,360,480,600,720,840],"tickCount":20,"title":"Time (s)"}}}},
   {"data":{"name":"b3"},"transform":[{"fold":["A","B"],"as":["s","v"]}],"mark":{"type":"line","strokeWidth":1},
    "encoding":{"x":{"field":"t","type":"quantitative"},"y":{"field":"v","type":"quantitative","scale":{"domain":[0,200],"nice":false},"axis":{"values":[0,50,100,150,200],"tickCount":20,"title":"Speed (µm s⁻¹)"}},
     "color":{"field":"s","type":"nominal","scale":{"domain":["A","B"],"range":["#4b5cc8","#5cc05a"]},"legend":{"title":null,"legendX":203,"legendY":28,"labelFontStyle":"italic","labelExpr":"datum.label=='A' ? 'npr-1' : 'gcy-35; npr-1'"}}}}
  ]},
 {"width":163,"height":25,"data":{"name":"sp"},"mark":{"type":"point","opacity":0}},
 {"width":163,"height":103,"resolve":{"scale":{"y":"independent"}},
  "layer":[
   {"layer":[
    {"data":{"name":"o2a"},"mark":{"type":"line","color":"#a6a6a6","strokeWidth":1.6},"encoding":{"x":{"field":"t","type":"quantitative","scale":{"domain":[0,840],"nice":false,"zero":false},"axis":{"values":[0,120,240,360,480,600,720,840],"tickCount":20,"title":"Time (s)"}},"y":{"field":"o2","type":"quantitative","scale":{"domain":[-18.9,21.3],"nice":false,"zero":false},"axis":{"orient":"right","values":[5,10,15,20],"tickCount":20,"title":"O₂ conc. (%)","titleColor":"#c0c0c0","domainColor":"#a6a6a6","tickColor":"#a6a6a6","labelColor":"#444"}}}},
    {"data":{"name":"sc"},"mark":{"type":"rule","strokeWidth":3},"encoding":{"x":{"field":"t0","type":"quantitative"},"x2":{"field":"t1"},"y":{"field":"y","type":"quantitative"},"color":{"field":"s","type":"nominal"}}},
    {"data":{"name":"sc"},"mark":{"type":"text","fontSize":8.5,"opacity":0.7,"baseline":"middle"},"encoding":{"x":{"field":"tm","type":"quantitative"},"y":{"field":"ly","type":"quantitative"},"text":{"field":"lab"},"color":{"field":"s","type":"nominal"}}}
   ]},
   {"data":{"name":"c"},"transform":[{"fold":["A","B"],"as":["s","v"]}],
    "layer":[
     {"mark":{"type":"line","strokeWidth":3,"opacity":0.25},"encoding":{"x":{"field":"t","type":"quantitative"},"y":{"field":"v","type":"quantitative","scale":{"domain":[0,30],"nice":false,"zero":false},"axis":{"values":[0,5,10,15,20,25,30],"tickCount":20,"title":"Proportion reversing (%)"}},"color":{"field":"s","type":"nominal"}}},
     {"mark":{"type":"line","strokeWidth":1.1},"encoding":{"x":{"field":"t","type":"quantitative"},"y":{"field":"v","type":"quantitative"},"color":{"field":"s","type":"nominal","scale":{"domain":["A","B"],"range":["#2a37a8","#4dbf4d"]},"legend":{"title":null,"legendX":203,"legendY":41,"labelFontStyle":"italic","labelExpr":"datum.label=='A' ? 'npr-1' : 'gcy-35; npr-1'"}}}},
     {"data":{"name":"sp"},"mark":{"type":"text","fontSize":17,"fontWeight":"bold","align":"right","baseline":"alphabetic","color":"#000"},"encoding":{"x":{"datum":-191},"y":{"datum":27.7},"text":{"value":"c"}}}
    ]}
  ]},
 {"width":163,"height":22,"data":{"name":"sp"},"mark":{"type":"point","opacity":0}},
 {"width":163,"height":104,"resolve":{"scale":{"y":"independent"}},
  "layer":[
   {"layer":[
    {"data":{"name":"o2a"},"mark":{"type":"line","color":"#a6a6a6","strokeWidth":1.6},"encoding":{"x":{"field":"t","type":"quantitative","scale":{"domain":[0,840],"nice":false,"zero":false},"axis":{"values":[0,120,240,360,480,600,720,840],"tickCount":20,"title":"Time (s)"}},"y":{"field":"o2","type":"quantitative","scale":{"domain":[-19,25],"nice":false,"zero":false},"axis":{"orient":"right","values":[5,10,15,20,25],"tickCount":20,"title":"O₂ conc. (%)","titleColor":"#c0c0c0","domainColor":"#a6a6a6","tickColor":"#a6a6a6","labelColor":"#444"}}}},
    {"data":{"name":"sd"},"mark":{"type":"rule","strokeWidth":3},"encoding":{"x":{"field":"t0","type":"quantitative"},"x2":{"field":"t1"},"y":{"field":"y","type":"quantitative"},"color":{"field":"s","type":"nominal"}}},
    {"data":{"name":"sd"},"mark":{"type":"text","fontSize":8.5,"opacity":0.7,"baseline":"middle"},"encoding":{"x":{"field":"tm","type":"quantitative"},"y":{"field":"ly","type":"quantitative"},"text":{"field":"lab"},"color":{"field":"s","type":"nominal"}}}
   ]},
   {"data":{"name":"d"},"transform":[{"fold":["A","B"],"as":["s","v"]}],
    "layer":[
     {"mark":{"type":"line","strokeWidth":3,"opacity":0.25},"encoding":{"x":{"field":"t","type":"quantitative"},"y":{"field":"v","type":"quantitative","scale":{"domain":[0,15],"nice":false,"zero":false},"axis":{"values":[0,5,10,15],"tickCount":20,"title":"Proportion in Omega Turn (%)"}},"color":{"field":"s","type":"nominal"}}},
     {"mark":{"type":"line","strokeWidth":1.1},"encoding":{"x":{"field":"t","type":"quantitative"},"y":{"field":"v","type":"quantitative"},"color":{"field":"s","type":"nominal","scale":{"domain":["A","B"],"range":["#2a37a8","#4dbf4d"]},"legend":{"title":null,"legendX":203,"legendY":42,"labelFontStyle":"italic","labelExpr":"datum.label=='A' ? 'npr-1' : 'gcy-35; npr-1'"}}}},
     {"data":{"name":"sp"},"mark":{"type":"text","fontSize":17,"fontWeight":"bold","align":"right","baseline":"alphabetic","color":"#000"},"encoding":{"x":{"datum":-180},"y":{"datum":14.86},"text":{"value":"d"}}}
    ]}
  ]},
 {"width":163,"height":21,"data":{"name":"sp"},"mark":{"type":"point","opacity":0}},
 {"width":163,"height":117,"resolve":{"scale":{"y":"independent"}},
  "layer":[
   {"layer":[
    {"data":{"name":"o2e"},"mark":{"type":"line","color":"#a6a6a6","strokeWidth":1.6},"encoding":{"x":{"field":"t","type":"quantitative","scale":{"domain":[0,925],"nice":false,"zero":false},"axis":{"values":[0,120,240,360,480,600,720,840],"tickCount":20,"title":"Time (s)"}},"y":{"field":"o2","type":"quantitative","scale":{"domain":[-22.8,21],"nice":false,"zero":false},"axis":{"orient":"right","values":[5,9,13,17,21],"tickCount":20,"title":"O₂ conc. (%)","titleColor":"#c0c0c0","domainColor":"#a6a6a6","tickColor":"#a6a6a6","labelColor":"#444"}}}},
    {"data":{"name":"se"},"mark":{"type":"rule","strokeWidth":3},"encoding":{"x":{"field":"t0","type":"quantitative"},"x2":{"field":"t1"},"y":{"field":"y","type":"quantitative"},"color":{"field":"s","type":"nominal"}}},
    {"data":{"name":"se"},"mark":{"type":"text","fontSize":8.5,"opacity":0.7,"baseline":"middle"},"encoding":{"x":{"field":"tm","type":"quantitative"},"y":{"field":"ly","type":"quantitative"},"text":{"field":"lab"},"color":{"field":"s","type":"nominal"}}}
   ]},
   {"data":{"name":"e"},"transform":[{"fold":["A","B","C"],"as":["s","v"]}],
    "layer":[
     {"mark":{"type":"line","strokeWidth":3,"opacity":0.25},"encoding":{"x":{"field":"t","type":"quantitative"},"y":{"field":"v","type":"quantitative","scale":{"domain":[0,33.7],"nice":false,"zero":false},"axis":{"values":[0,5,10,15,20,25,30],"tickCount":20,"title":"Proportion reversing (%)"}},"color":{"field":"s","type":"nominal"}}},
     {"mark":{"type":"line","strokeWidth":1.1},"encoding":{"x":{"field":"t","type":"quantitative"},"y":{"field":"v","type":"quantitative"},"color":{"field":"s","type":"nominal","scale":{"domain":["A","B","C"],"range":["#4dbf4d","#f36c3c","#b455b4"]},"legend":{"title":null,"legendX":202,"legendY":57,"labelExpr":"datum.label=='A' ? 'gcy-35; npr-1' : datum.label=='B' ? ['gcy-35; npr-1','GCY-35 URX rescue'] : ['gcy-35; npr-1','GCY-35 AQR','PQR URX rescue']"}}}},
     {"data":{"name":"sp"},"mark":{"type":"text","fontSize":17,"fontWeight":"bold","align":"right","baseline":"alphabetic","color":"#000"},"encoding":{"x":{"datum":-199},"y":{"datum":33.4},"text":{"value":"e"}}}
    ]}
  ]},
 {"width":163,"height":22,"data":{"name":"sp"},"mark":{"type":"point","opacity":0}},
 {"width":163,"height":104,"resolve":{"scale":{"y":"independent"}},
  "layer":[
   {"layer":[
    {"data":{"name":"o2e"},"mark":{"type":"line","color":"#a6a6a6","strokeWidth":1.6},"encoding":{"x":{"field":"t","type":"quantitative","scale":{"domain":[0,925],"nice":false,"zero":false},"axis":{"values":[0,120,240,360,480,600,720,840],"tickCount":20,"title":"Time (s)"}},"y":{"field":"o2","type":"quantitative","scale":{"domain":[-17.1,22.9],"nice":false,"zero":false},"axis":{"orient":"right","values":[5,9,13,17,21],"tickCount":20,"title":"O₂ conc. (%)","titleColor":"#c0c0c0","domainColor":"#a6a6a6","tickColor":"#a6a6a6","labelColor":"#444"}}}},
    {"data":{"name":"sf"},"mark":{"type":"rule","strokeWidth":3},"encoding":{"x":{"field":"t0","type":"quantitative"},"x2":{"field":"t1"},"y":{"field":"y","type":"quantitative"},"color":{"field":"s","type":"nominal"}}},
    {"data":{"name":"sf"},"mark":{"type":"text","fontSize":8.5,"opacity":0.7,"baseline":"middle"},"encoding":{"x":{"field":"tm","type":"quantitative"},"y":{"field":"ly","type":"quantitative"},"text":{"field":"lab"},"color":{"field":"s","type":"nominal"}}}
   ]},
   {"data":{"name":"f"},"transform":[{"fold":["A","B","C"],"as":["s","v"]}],
    "layer":[
     {"mark":{"type":"line","strokeWidth":3,"opacity":0.25},"encoding":{"x":{"field":"t","type":"quantitative"},"y":{"field":"v","type":"quantitative","scale":{"domain":[0,15],"nice":false,"zero":false},"axis":{"values":[0,5,10,15],"tickCount":20,"title":"Proportion in Omega Turn (%)"}},"color":{"field":"s","type":"nominal"}}},
     {"mark":{"type":"line","strokeWidth":1.1},"encoding":{"x":{"field":"t","type":"quantitative"},"y":{"field":"v","type":"quantitative"},"color":{"field":"s","type":"nominal","scale":{"domain":["A","B","C"],"range":["#4dbf4d","#f36c3c","#b455b4"]},"legend":{"title":null,"legendX":202,"legendY":53,"labelExpr":"datum.label=='A' ? 'gcy-35; npr-1' : datum.label=='B' ? ['gcy-35; npr-1','GCY-35 URX rescue'] : ['gcy-35; npr-1','GCY-35 AQR','PQR URX rescue']"}}}},
     {"data":{"name":"sp"},"mark":{"type":"text","fontSize":17,"fontWeight":"bold","align":"right","baseline":"alphabetic","color":"#000"},"encoding":{"x":{"datum":-221},"y":{"datum":15.29},"text":{"value":"f"}}}
    ]}
  ]}
],"spacing":6,"bounds":"flush","resolve":{"scale":{"color":"independent"}}},
{"vconcat":[
 {"width":163,"height":104,"resolve":{"scale":{"y":"independent"}},
  "layer":[
   {"layer":[
    {"data":{"name":"o2e"},"mark":{"type":"line","color":"#a6a6a6","strokeWidth":1.6},"encoding":{"x":{"field":"t","type":"quantitative","scale":{"domain":[0,925],"nice":false,"zero":false},"axis":{"values":[0,120,240,360,480,600,720,840],"tickCount":20,"title":"Time (s)"}},"y":{"field":"o2","type":"quantitative","scale":{"domain":[-19,21],"nice":false,"zero":false},"axis":{"orient":"right","values":[5,9,13,17,21],"tickCount":20,"title":"O₂ conc. (%)","titleColor":"#c0c0c0","domainColor":"#a6a6a6","tickColor":"#a6a6a6","labelColor":"#444"}}}},
    {"data":{"name":"sg"},"mark":{"type":"rule","strokeWidth":3},"encoding":{"x":{"field":"t0","type":"quantitative"},"x2":{"field":"t1"},"y":{"field":"y","type":"quantitative"},"color":{"field":"s","type":"nominal"}}},
    {"data":{"name":"sg"},"mark":{"type":"text","fontSize":8.5,"opacity":0.7,"baseline":"middle"},"encoding":{"x":{"field":"tm","type":"quantitative"},"y":{"field":"ly","type":"quantitative"},"text":{"field":"lab"},"color":{"field":"s","type":"nominal"}}}
   ]},
   {"data":{"name":"g"},"transform":[{"fold":["A","B","C"],"as":["s","v"]}],
    "layer":[
     {"mark":{"type":"line","strokeWidth":3,"opacity":0.25},"encoding":{"x":{"field":"t","type":"quantitative"},"y":{"field":"v","type":"quantitative","scale":{"domain":[0,30],"nice":false,"zero":false},"axis":{"values":[0,5,10,15,20,25,30],"tickCount":20,"title":"Proportion reversing (%)"}},"color":{"field":"s","type":"nominal"}}},
     {"mark":{"type":"line","strokeWidth":1.1},"encoding":{"x":{"field":"t","type":"quantitative"},"y":{"field":"v","type":"quantitative"},"color":{"field":"s","type":"nominal","scale":{"domain":["A","B","C"],"range":["#2a2f9a","#f03c3c","#50b8e8"]},"legend":{"title":null,"legendX":206,"legendY":23,"labelExpr":"datum.label=='A' ? 'npr-1(ad609)' : datum.label=='B' ? 'npr-1(ad609) TeTX in URX' : ['npr-1(ad609) TeTX in','URX  AQR PQR']"}}}},
     {"data":{"name":"sp"},"mark":{"type":"text","fontSize":17,"fontWeight":"bold","align":"right","baseline":"alphabetic","color":"#000"},"encoding":{"x":{"datum":-227},"y":{"datum":31.44},"text":{"value":"g"}}}
    ]}
  ]},
 {"width":163,"height":34,"data":{"name":"sp"},"mark":{"type":"point","opacity":0}},
 {"width":163,"height":104,"resolve":{"scale":{"y":"independent"}},
  "layer":[
   {"layer":[
    {"data":{"name":"o2e"},"mark":{"type":"line","color":"#a6a6a6","strokeWidth":1.6},"encoding":{"x":{"field":"t","type":"quantitative","scale":{"domain":[0,925],"nice":false,"zero":false},"axis":{"values":[0,120,240,360,480,600,720,840],"tickCount":20,"title":"Time (s)"}},"y":{"field":"o2","type":"quantitative","scale":{"domain":[-17.1,22.9],"nice":false,"zero":false},"axis":{"orient":"right","values":[5,9,13,17,21],"tickCount":20,"title":"O₂ conc. (%)","titleColor":"#c0c0c0","domainColor":"#a6a6a6","tickColor":"#a6a6a6","labelColor":"#444"}}}},
    {"data":{"name":"sh"},"mark":{"type":"rule","strokeWidth":3},"encoding":{"x":{"field":"t0","type":"quantitative"},"x2":{"field":"t1"},"y":{"field":"y","type":"quantitative"},"color":{"field":"s","type":"nominal"}}},
    {"data":{"name":"sh"},"mark":{"type":"text","fontSize":8.5,"opacity":0.7,"baseline":"middle"},"encoding":{"x":{"field":"tm","type":"quantitative"},"y":{"field":"ly","type":"quantitative"},"text":{"field":"lab"},"color":{"field":"s","type":"nominal"}}}
   ]},
   {"data":{"name":"h"},"transform":[{"fold":["A","B","C"],"as":["s","v"]}],
    "layer":[
     {"mark":{"type":"line","strokeWidth":3,"opacity":0.25},"encoding":{"x":{"field":"t","type":"quantitative"},"y":{"field":"v","type":"quantitative","scale":{"domain":[0,15],"nice":false,"zero":false},"axis":{"values":[0,5,10,15],"tickCount":20,"title":"Proportion in Omega Turn (%)"}},"color":{"field":"s","type":"nominal"}}},
     {"mark":{"type":"line","strokeWidth":1.1},"encoding":{"x":{"field":"t","type":"quantitative"},"y":{"field":"v","type":"quantitative"},"color":{"field":"s","type":"nominal","scale":{"domain":["A","B","C"],"range":["#2a2f9a","#f03c3c","#50b8e8"]},"legend":{"title":null,"legendX":206,"legendY":29,"labelExpr":"datum.label=='A' ? 'npr-1(ad609)' : datum.label=='B' ? 'npr-1(ad609) TeTX in URX' : ['npr-1(ad609) TeTX in','URX  AQR PQR']"}}}},
     {"data":{"name":"sp"},"mark":{"type":"text","fontSize":17,"fontWeight":"bold","align":"right","baseline":"alphabetic","color":"#000"},"encoding":{"x":{"datum":-216},"y":{"datum":16.0},"text":{"value":"h"}}}
    ]}
  ]},
 {"width":163,"height":25,"data":{"name":"sp"},"mark":{"type":"point","opacity":0}},
 {"width":163,"height":113,"resolve":{"scale":{"y":"independent"}},
  "layer":[
   {"layer":[
    {"data":{"name":"o2e"},"mark":{"type":"line","color":"#a6a6a6","strokeWidth":1.6},"encoding":{"x":{"field":"t","type":"quantitative","scale":{"domain":[0,925],"nice":false,"zero":false},"axis":{"values":[0,120,240,360,480,600,720,840],"tickCount":20,"title":"Time (s)"}},"y":{"field":"o2","type":"quantitative","scale":{"domain":[-20.9,21.4],"nice":false,"zero":false},"axis":{"orient":"right","values":[5,9,13,17,21],"tickCount":20,"title":"O₂ conc. (%)","titleColor":"#c0c0c0","domainColor":"#a6a6a6","tickColor":"#a6a6a6","labelColor":"#444"}}}},
    {"data":{"name":"si"},"mark":{"type":"rule","strokeWidth":3},"encoding":{"x":{"field":"t0","type":"quantitative"},"x2":{"field":"t1"},"y":{"field":"y","type":"quantitative"},"color":{"field":"s","type":"nominal"}}},
    {"data":{"name":"si"},"mark":{"type":"text","fontSize":8.5,"opacity":0.7,"baseline":"middle"},"encoding":{"x":{"field":"tm","type":"quantitative"},"y":{"field":"ly","type":"quantitative"},"text":{"field":"lab"},"color":{"field":"s","type":"nominal"}}}
   ]},
   {"data":{"name":"i"},"transform":[{"fold":["A","B","C"],"as":["s","v"]}],
    "layer":[
     {"mark":{"type":"line","strokeWidth":3,"opacity":0.25},"encoding":{"x":{"field":"t","type":"quantitative"},"y":{"field":"v","type":"quantitative","scale":{"domain":[0,32.5],"nice":false,"zero":false},"axis":{"values":[0,5,10,15,20,25,30],"tickCount":20,"title":"Proportion reversing (%)"}},"color":{"field":"s","type":"nominal"}}},
     {"mark":{"type":"line","strokeWidth":1.1},"encoding":{"x":{"field":"t","type":"quantitative"},"y":{"field":"v","type":"quantitative"},"color":{"field":"s","type":"nominal","scale":{"domain":["A","B","C"],"range":["#2a2f9a","#f03c3c","#50b8e8"]},"legend":{"title":null,"legendX":206,"legendY":28,"labelExpr":"datum.label=='A' ? 'npr-1' : datum.label=='B' ? ['npr-1 pgcy-32::egl-21RNAi','(knockdown in URX AQR PQR)'] : ['npr-1 pgcy-32::egl-21RNAi','+rescue in URX AQR PQR']"}}}},
     {"data":{"name":"sp"},"mark":{"type":"text","fontSize":17,"fontWeight":"bold","align":"right","baseline":"alphabetic","color":"#000"},"encoding":{"x":{"datum":-233},"y":{"datum":29.6},"text":{"value":"i"}}}
    ]}
  ]},
 {"width":163,"height":35,"data":{"name":"sp"},"mark":{"type":"point","opacity":0}},
 {"width":163,"height":103,"resolve":{"scale":{"y":"independent"}},
  "layer":[
   {"layer":[
    {"data":{"name":"o2e"},"mark":{"type":"line","color":"#a6a6a6","strokeWidth":1.6},"encoding":{"x":{"field":"t","type":"quantitative","scale":{"domain":[0,925],"nice":false,"zero":false},"axis":{"values":[0,120,240,360,480,600,720,840],"tickCount":20,"title":"Time (s)"}},"y":{"field":"o2","type":"quantitative","scale":{"domain":[-15.9,23.1],"nice":false,"zero":false},"axis":{"orient":"right","values":[5,9,13,17,21],"tickCount":20,"title":"O₂ conc. (%)","titleColor":"#c0c0c0","domainColor":"#a6a6a6","tickColor":"#a6a6a6","labelColor":"#444"}}}},
    {"data":{"name":"sj"},"mark":{"type":"rule","strokeWidth":3},"encoding":{"x":{"field":"t0","type":"quantitative"},"x2":{"field":"t1"},"y":{"field":"y","type":"quantitative"},"color":{"field":"s","type":"nominal"}}},
    {"data":{"name":"sj"},"mark":{"type":"text","fontSize":8.5,"opacity":0.7,"baseline":"middle"},"encoding":{"x":{"field":"tm","type":"quantitative"},"y":{"field":"ly","type":"quantitative"},"text":{"field":"lab"},"color":{"field":"s","type":"nominal"}}}
   ]},
   {"data":{"name":"j"},"transform":[{"fold":["A","B","C"],"as":["s","v"]}],
    "layer":[
     {"mark":{"type":"line","strokeWidth":3,"opacity":0.25},"encoding":{"x":{"field":"t","type":"quantitative"},"y":{"field":"v","type":"quantitative","scale":{"domain":[0,15],"nice":false,"zero":false},"axis":{"values":[0,5,10,15],"tickCount":20,"title":"Proportion in Omega Turn (%)"}},"color":{"field":"s","type":"nominal"}}},
     {"mark":{"type":"line","strokeWidth":1.1},"encoding":{"x":{"field":"t","type":"quantitative"},"y":{"field":"v","type":"quantitative"},"color":{"field":"s","type":"nominal","scale":{"domain":["A","B","C"],"range":["#2a2f9a","#f03c3c","#50b8e8"]},"legend":{"title":null,"legendX":206,"legendY":25,"labelExpr":"datum.label=='A' ? 'npr-1' : datum.label=='B' ? ['npr-1 pgcy-32::egl-21RNAi','(knockdown in URX AQR PQR)'] : ['npr-1 pgcy-32::egl-21RNAi','+rescue in URX AQR PQR']"}}}},
     {"data":{"name":"sp"},"mark":{"type":"text","fontSize":17,"fontWeight":"bold","align":"right","baseline":"alphabetic","color":"#000"},"encoding":{"x":{"datum":-227},"y":{"datum":15.44},"text":{"value":"j"}}}
    ]}
  ]},
 {"width":163,"height":35,"data":{"name":"sp"},"mark":{"type":"point","opacity":0}},
 {"width":163,"height":104,"resolve":{"scale":{"y":"independent"}},
  "layer":[
   {"layer":[
    {"data":{"name":"o2e"},"mark":{"type":"line","color":"#a6a6a6","strokeWidth":1.6},"encoding":{"x":{"field":"t","type":"quantitative","scale":{"domain":[0,925],"nice":false,"zero":false},"axis":{"values":[0,120,240,360,480,600,720,840],"tickCount":20,"title":"Time (s)"}},"y":{"field":"o2","type":"quantitative","scale":{"domain":[-15.3,22.8],"nice":false,"zero":false},"axis":{"orient":"right","values":[5,9,13,17,21],"tickCount":20,"title":"O₂ conc. (%)","titleColor":"#c0c0c0","domainColor":"#a6a6a6","tickColor":"#a6a6a6","labelColor":"#444"}}}},
    {"data":{"name":"sk"},"mark":{"type":"rule","strokeWidth":3},"encoding":{"x":{"field":"t0","type":"quantitative"},"x2":{"field":"t1"},"y":{"field":"y","type":"quantitative"},"color":{"field":"s","type":"nominal"}}},
    {"data":{"name":"sk"},"mark":{"type":"text","fontSize":8.5,"opacity":0.7,"baseline":"middle"},"encoding":{"x":{"field":"tm","type":"quantitative"},"y":{"field":"ly","type":"quantitative"},"text":{"field":"lab"},"color":{"field":"s","type":"nominal"}}}
   ]},
   {"data":{"name":"k"},"transform":[{"fold":["A","B"],"as":["s","v"]}],
    "layer":[
     {"mark":{"type":"line","strokeWidth":3,"opacity":0.25},"encoding":{"x":{"field":"t","type":"quantitative"},"y":{"field":"v","type":"quantitative","scale":{"domain":[0,30],"nice":false,"zero":false},"axis":{"values":[0,5,10,15,20,25,30],"tickCount":20,"title":"Proportion reversing (%)"}},"color":{"field":"s","type":"nominal"}}},
     {"mark":{"type":"line","strokeWidth":1.1},"encoding":{"x":{"field":"t","type":"quantitative"},"y":{"field":"v","type":"quantitative"},"color":{"field":"s","type":"nominal","scale":{"domain":["A","B"],"range":["#2a37a8","#f03c3c"]},"legend":{"title":null,"legendX":206,"legendY":40,"labelExpr":"datum.label=='A' ? 'npr-1 mock ablation' : 'npr-1 RMG ablated'"}}}},
     {"data":{"name":"sp"},"mark":{"type":"text","fontSize":17,"fontWeight":"bold","align":"right","baseline":"alphabetic","color":"#000"},"encoding":{"x":{"datum":-204},"y":{"datum":29.42},"text":{"value":"k"}}}
    ]}
  ]},
 {"width":163,"height":36,"data":{"name":"sp"},"mark":{"type":"point","opacity":0}},
 {"width":163,"height":104,"resolve":{"scale":{"y":"independent"}},
  "layer":[
   {"layer":[
    {"data":{"name":"o2e"},"mark":{"type":"line","color":"#a6a6a6","strokeWidth":1.6},"encoding":{"x":{"field":"t","type":"quantitative","scale":{"domain":[0,925],"nice":false,"zero":false},"axis":{"values":[0,120,240,360,480,600,720,840],"tickCount":20,"title":"Time (s)"}},"y":{"field":"o2","type":"quantitative","scale":{"domain":[-17.1,22.9],"nice":false,"zero":false},"axis":{"orient":"right","values":[5,9,13,17,21],"tickCount":20,"title":"O₂ conc. (%)","titleColor":"#c0c0c0","domainColor":"#a6a6a6","tickColor":"#a6a6a6","labelColor":"#444"}}}},
    {"data":{"name":"sl"},"mark":{"type":"rule","strokeWidth":3},"encoding":{"x":{"field":"t0","type":"quantitative"},"x2":{"field":"t1"},"y":{"field":"y","type":"quantitative"},"color":{"field":"s","type":"nominal"}}},
    {"data":{"name":"sl"},"mark":{"type":"text","fontSize":8.5,"opacity":0.7,"baseline":"middle"},"encoding":{"x":{"field":"tm","type":"quantitative"},"y":{"field":"ly","type":"quantitative"},"text":{"field":"lab"},"color":{"field":"s","type":"nominal"}}}
   ]},
   {"data":{"name":"l"},"transform":[{"fold":["A","B"],"as":["s","v"]}],
    "layer":[
     {"mark":{"type":"line","strokeWidth":3,"opacity":0.25},"encoding":{"x":{"field":"t","type":"quantitative"},"y":{"field":"v","type":"quantitative","scale":{"domain":[0,15],"nice":false,"zero":false},"axis":{"values":[0,5,10,15],"tickCount":20,"title":"Proportion in Omega Turn (%)"}},"color":{"field":"s","type":"nominal"}}},
     {"mark":{"type":"line","strokeWidth":1.1},"encoding":{"x":{"field":"t","type":"quantitative"},"y":{"field":"v","type":"quantitative"},"color":{"field":"s","type":"nominal","scale":{"domain":["A","B"],"range":["#2a37a8","#f03c3c"]},"legend":{"title":null,"legendX":206,"legendY":37,"labelExpr":"datum.label=='A' ? 'npr-1 mock ablation' : 'npr-1 RMG ablated'"}}}},
     {"data":{"name":"sp"},"mark":{"type":"text","fontSize":17,"fontWeight":"bold","align":"right","baseline":"alphabetic","color":"#000"},"encoding":{"x":{"datum":-233},"y":{"datum":15.43},"text":{"value":"l"}}}
    ]}
  ]}
],"spacing":6,"bounds":"flush","resolve":{"scale":{"color":"independent"}}}
],
"spacing":-16,
"resolve":{"scale":{"color":"independent"}}
}
